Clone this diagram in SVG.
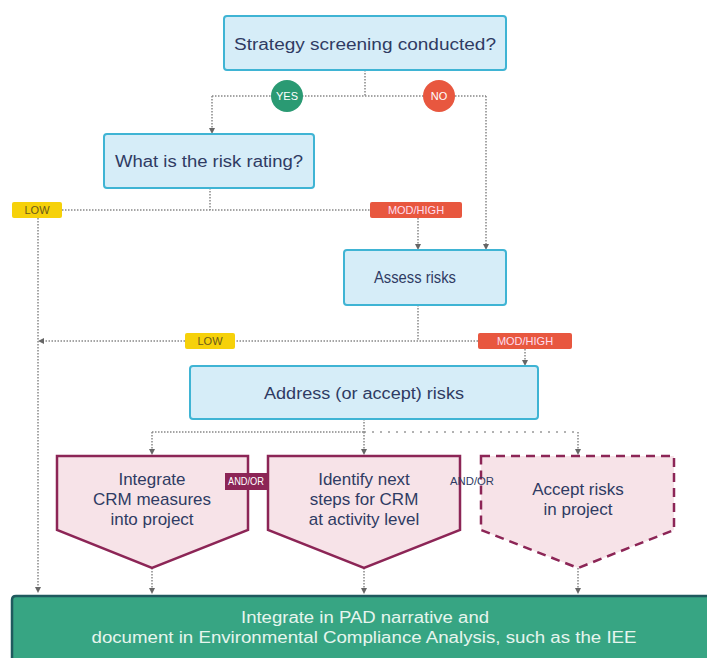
<svg xmlns="http://www.w3.org/2000/svg" width="707" height="658" viewBox="0 0 707 658">
<defs>
<marker id="ah" markerWidth="6" markerHeight="6" refX="3" refY="3" orient="auto" markerUnits="userSpaceOnUse">
<path d="M0,0 L6,3 L0,6 Z" fill="#666"/>
</marker>
<style>
.box{fill:#d6edf8;stroke:#3fb4d4;stroke-width:2}
.t{font-family:"Liberation Sans",Arial,sans-serif;fill:#2f3b63;text-anchor:middle}
.big{font-size:16px}
.pt{font-size:17px}
.pent{fill:#f7e3e8;stroke:#8c2556;stroke-width:2.5}
.pentd{fill:#f7e3e8;stroke:#8c2556;stroke-width:2.5;stroke-dasharray:9 6}
.c{fill:none;stroke:#888;stroke-width:1.5;stroke-dasharray:1.5 1.5}
.cs{fill:none;stroke:#999;stroke-width:1.5;stroke-dasharray:2 6}
.tag{font-family:"Liberation Sans",Arial,sans-serif;font-size:11px;text-anchor:middle}
</style>
</defs>
<rect width="707" height="658" fill="#fff"/>
<g id="connectors">
<path class="c" d="M365,70 V96"/>
<path class="c" d="M212,96 H486"/>
<path class="c" d="M212,96 V131" marker-end="url(#ah)"/>
<path class="c" d="M486,96 V247" marker-end="url(#ah)"/>
<path class="c" d="M210,188 V210"/>
<path class="c" d="M62,210 H370"/>
<path class="c" d="M38,218 V590" marker-end="url(#ah)"/>
<path class="c" d="M418,218 V247" marker-end="url(#ah)"/>
<path class="c" d="M418,305 V341"/>
<path class="c" d="M478,341 H235"/>
<path class="c" d="M185,341 H41" marker-end="url(#ah)"/>
<path class="c" d="M525,349 V363" marker-end="url(#ah)"/>
<path class="c" d="M364,419 V432"/>
<path class="c" d="M152,432 H364"/>
<path class="cs" d="M364,432 H578"/>
<path class="c" d="M152,432 V452" marker-end="url(#ah)"/>
<path class="c" d="M364,432 V452" marker-end="url(#ah)"/>
<path class="c" d="M578,432 V452" marker-end="url(#ah)"/>
<path class="c" d="M152,568 V591" marker-end="url(#ah)"/>
<path class="c" d="M364,568 V591" marker-end="url(#ah)"/>
<path class="c" d="M578,568 V591" marker-end="url(#ah)"/>
</g>
<g id="n_strategy">
<rect class="box" x="224" y="16" width="282" height="54" rx="3"/>
<text class="t big" x="365" y="50" textLength="262" lengthAdjust="spacingAndGlyphs">Strategy screening conducted?</text>
</g>
<g id="yes">
<circle cx="287" cy="96" r="16" fill="#2a9a73"/>
<text class="tag" x="287" y="100" fill="#fff">YES</text>
</g>
<g id="no">
<circle cx="439" cy="96" r="16" fill="#e8573f"/>
<text class="tag" x="439" y="100" fill="#fff">NO</text>
</g>
<g id="n_rating">
<rect class="box" x="104" y="134" width="210" height="54" rx="3"/>
<text class="t big" x="209" y="167" textLength="188" lengthAdjust="spacingAndGlyphs">What is the risk rating?</text>
</g>
<g id="low1">
<rect x="12" y="202" width="50" height="16" rx="2" fill="#f6d10a"/>
<text class="tag" x="37" y="214" fill="#6b5a1a">LOW</text>
</g>
<g id="mod1">
<rect x="370" y="202" width="92" height="16" rx="2" fill="#e8573f"/>
<text class="tag" x="416" y="214" fill="#fde">MOD/HIGH</text>
</g>
<g id="n_assess">
<rect class="box" x="344" y="250" width="162" height="55" rx="3"/>
<text class="t big" x="415" y="283" textLength="82" lengthAdjust="spacingAndGlyphs">Assess risks</text>
</g>
<g id="low2">
<rect x="185" y="333" width="50" height="16" rx="2" fill="#f6d10a"/>
<text class="tag" x="210" y="345" fill="#6b5a1a">LOW</text>
</g>
<g id="mod2">
<rect x="478" y="333" width="94" height="16" rx="2" fill="#e8573f"/>
<text class="tag" x="525" y="345" fill="#fde">MOD/HIGH</text>
</g>
<g id="n_address">
<rect class="box" x="190" y="366" width="348" height="53" rx="3"/>
<text class="t big" x="364" y="399" textLength="200" lengthAdjust="spacingAndGlyphs">Address (or accept) risks</text>
</g>
<g id="n_integrate">
<path class="pent" d="M57,456 H248 V530 L152,568 L57,530 Z"/>
<text class="t pt" x="152" y="485">Integrate</text>
<text class="t pt" x="152" y="505">CRM measures</text>
<text class="t pt" x="152" y="525">into project</text>
</g>
<g id="n_identify">
<path class="pent" d="M268,456 H460 V530 L364,568 L268,530 Z"/>
<text class="t pt" x="364" y="485">Identify next</text>
<text class="t pt" x="364" y="505">steps for CRM</text>
<text class="t pt" x="364" y="525">at activity level</text>
</g>
<g id="n_accept">
<path class="pentd" d="M481,456 H674 V530 L578,568 L481,530 Z"/>
<text class="t pt" x="578" y="495">Accept risks</text>
<text class="t pt" x="578" y="515">in project</text>
</g>
<g id="andor1">
<rect x="225" y="473" width="42" height="17" fill="#8c2556"/>
<text class="tag" x="246" y="485" fill="#fff" font-size="9px" textLength="36" lengthAdjust="spacingAndGlyphs">AND/OR</text>
</g>
<g id="andor2">
<text class="tag" x="472" y="485" fill="#2f3b63" font-size="9px" textLength="44" lengthAdjust="spacingAndGlyphs">AND/OR</text>
</g>
<g id="n_pad">
<path d="M12,658 V600 Q12,596 16,596 H707 V658 Z" fill="#37a583"/>
<path d="M12,658 V600 Q12,596 16,596 H707" fill="none" stroke="#1f5a5e" stroke-width="2.5"/>
<text class="t" x="365" y="623" font-size="16px" style="fill:#e6f5ee" textLength="248" lengthAdjust="spacingAndGlyphs">Integrate in PAD narrative and</text>
<text class="t" x="364" y="643" font-size="16px" style="fill:#e6f5ee" textLength="545" lengthAdjust="spacingAndGlyphs">document in Environmental Compliance Analysis, such as the IEE</text>
</g>
</svg>
